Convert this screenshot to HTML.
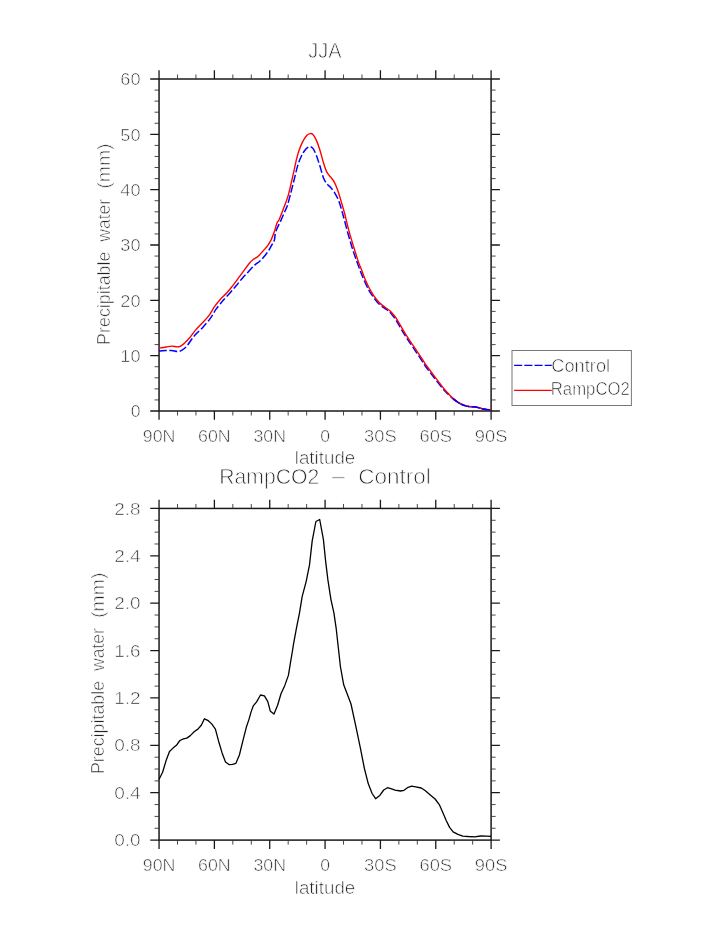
<!DOCTYPE html>
<html><head><meta charset="utf-8"><title>JJA Precipitable water</title>
<style>
html,body{margin:0;padding:0;background:#fff;}
svg{display:block;}
text{font-family:"Liberation Sans",sans-serif;fill:#222;stroke:#fff;stroke-width:0.62px;}
.t{stroke-width:0.8px;}
</style></head><body>
<svg width="723" height="935" viewBox="0 0 723 935">
<rect width="723" height="935" fill="#fff"/>
<rect x="159.05" y="79.0" width="332.05" height="332.0" fill="none" stroke="#1a1a1a" stroke-width="1.5"/>
<path d="M159.05,79.0v-8.8M159.05,411.0v8.8M214.39,79.0v-8.8M214.39,411.0v8.8M269.73,79.0v-8.8M269.73,411.0v8.8M325.08,79.0v-8.8M325.08,411.0v8.8M380.42,79.0v-8.8M380.42,411.0v8.8M435.76,79.0v-8.8M435.76,411.0v8.8M491.10,79.0v-8.8M491.10,411.0v8.8M159.05,411.00h-8.8M491.1,411.00h8.8M159.05,355.67h-8.8M491.1,355.67h8.8M159.05,300.33h-8.8M491.1,300.33h8.8M159.05,245.00h-8.8M491.1,245.00h8.8M159.05,189.67h-8.8M491.1,189.67h8.8M159.05,134.33h-8.8M491.1,134.33h8.8M159.05,79.00h-8.8M491.1,79.00h8.8" stroke="#1a1a1a" stroke-width="1.3" fill="none"/>
<path d="M177.50,79.0v-4.5M177.50,411.0v4.5M195.94,79.0v-4.5M195.94,411.0v4.5M232.84,79.0v-4.5M232.84,411.0v4.5M251.29,79.0v-4.5M251.29,411.0v4.5M288.18,79.0v-4.5M288.18,411.0v4.5M306.63,79.0v-4.5M306.63,411.0v4.5M343.52,79.0v-4.5M343.52,411.0v4.5M361.97,79.0v-4.5M361.97,411.0v4.5M398.86,79.0v-4.5M398.86,411.0v4.5M417.31,79.0v-4.5M417.31,411.0v4.5M454.21,79.0v-4.5M454.21,411.0v4.5M472.65,79.0v-4.5M472.65,411.0v4.5M159.05,399.93h-4.5M491.1,399.93h4.5M159.05,388.87h-4.5M491.1,388.87h4.5M159.05,377.80h-4.5M491.1,377.80h4.5M159.05,366.73h-4.5M491.1,366.73h4.5M159.05,344.60h-4.5M491.1,344.60h4.5M159.05,333.53h-4.5M491.1,333.53h4.5M159.05,322.47h-4.5M491.1,322.47h4.5M159.05,311.40h-4.5M491.1,311.40h4.5M159.05,289.27h-4.5M491.1,289.27h4.5M159.05,278.20h-4.5M491.1,278.20h4.5M159.05,267.13h-4.5M491.1,267.13h4.5M159.05,256.07h-4.5M491.1,256.07h4.5M159.05,233.93h-4.5M491.1,233.93h4.5M159.05,222.87h-4.5M491.1,222.87h4.5M159.05,211.80h-4.5M491.1,211.80h4.5M159.05,200.73h-4.5M491.1,200.73h4.5M159.05,178.60h-4.5M491.1,178.60h4.5M159.05,167.53h-4.5M491.1,167.53h4.5M159.05,156.47h-4.5M491.1,156.47h4.5M159.05,145.40h-4.5M491.1,145.40h4.5M159.05,123.27h-4.5M491.1,123.27h4.5M159.05,112.20h-4.5M491.1,112.20h4.5M159.05,101.13h-4.5M491.1,101.13h4.5M159.05,90.07h-4.5M491.1,90.07h4.5" stroke="#333" stroke-width="0.9" fill="none"/>
<rect x="159.05" y="508.45" width="332.05" height="331.65000000000003" fill="none" stroke="#1a1a1a" stroke-width="1.5"/>
<path d="M159.05,508.45v-8.8M159.05,840.1v8.8M214.39,508.45v-8.8M214.39,840.1v8.8M269.73,508.45v-8.8M269.73,840.1v8.8M325.08,508.45v-8.8M325.08,840.1v8.8M380.42,508.45v-8.8M380.42,840.1v8.8M435.76,508.45v-8.8M435.76,840.1v8.8M491.10,508.45v-8.8M491.10,840.1v8.8M159.05,840.10h-8.8M491.1,840.10h8.8M159.05,792.72h-8.8M491.1,792.72h8.8M159.05,745.34h-8.8M491.1,745.34h8.8M159.05,697.96h-8.8M491.1,697.96h8.8M159.05,650.59h-8.8M491.1,650.59h8.8M159.05,603.21h-8.8M491.1,603.21h8.8M159.05,555.83h-8.8M491.1,555.83h8.8M159.05,508.45h-8.8M491.1,508.45h8.8" stroke="#1a1a1a" stroke-width="1.3" fill="none"/>
<path d="M177.50,508.45v-4.5M177.50,840.1v4.5M195.94,508.45v-4.5M195.94,840.1v4.5M232.84,508.45v-4.5M232.84,840.1v4.5M251.29,508.45v-4.5M251.29,840.1v4.5M288.18,508.45v-4.5M288.18,840.1v4.5M306.63,508.45v-4.5M306.63,840.1v4.5M343.52,508.45v-4.5M343.52,840.1v4.5M361.97,508.45v-4.5M361.97,840.1v4.5M398.86,508.45v-4.5M398.86,840.1v4.5M417.31,508.45v-4.5M417.31,840.1v4.5M454.21,508.45v-4.5M454.21,840.1v4.5M472.65,508.45v-4.5M472.65,840.1v4.5M159.05,828.26h-4.5M491.1,828.26h4.5M159.05,816.41h-4.5M491.1,816.41h4.5M159.05,804.57h-4.5M491.1,804.57h4.5M159.05,780.88h-4.5M491.1,780.88h4.5M159.05,769.03h-4.5M491.1,769.03h4.5M159.05,757.19h-4.5M491.1,757.19h4.5M159.05,733.50h-4.5M491.1,733.50h4.5M159.05,721.65h-4.5M491.1,721.65h4.5M159.05,709.81h-4.5M491.1,709.81h4.5M159.05,686.12h-4.5M491.1,686.12h4.5M159.05,674.27h-4.5M491.1,674.27h4.5M159.05,662.43h-4.5M491.1,662.43h4.5M159.05,638.74h-4.5M491.1,638.74h4.5M159.05,626.90h-4.5M491.1,626.90h4.5M159.05,615.05h-4.5M491.1,615.05h4.5M159.05,591.36h-4.5M491.1,591.36h4.5M159.05,579.52h-4.5M491.1,579.52h4.5M159.05,567.67h-4.5M491.1,567.67h4.5M159.05,543.98h-4.5M491.1,543.98h4.5M159.05,532.14h-4.5M491.1,532.14h4.5M159.05,520.29h-4.5M491.1,520.29h4.5" stroke="#333" stroke-width="0.9" fill="none"/>
<path d="M159.00,350.90C159.22,350.90 159.12,350.95 160.30,350.90C161.48,350.85 164.22,350.67 166.10,350.60C167.98,350.53 169.65,350.33 171.60,350.50C173.55,350.67 176.07,351.65 177.80,351.60C179.53,351.55 180.50,351.12 182.00,350.20C183.50,349.28 185.18,347.93 186.80,346.10C188.42,344.27 190.08,341.28 191.70,339.20C193.32,337.12 194.55,335.68 196.50,333.60C198.45,331.52 201.10,329.23 203.40,326.70C205.70,324.17 208.22,321.28 210.30,318.40C212.38,315.52 214.05,312.05 215.90,309.40C217.75,306.75 220.03,304.18 221.40,302.50C222.77,300.82 222.53,301.07 224.10,299.30C225.67,297.53 228.72,294.25 230.80,291.90C232.88,289.55 234.67,287.48 236.60,285.20C238.53,282.92 240.47,280.42 242.40,278.20C244.33,275.98 246.12,274.12 248.20,271.90C250.28,269.68 252.97,266.68 254.90,264.90C256.83,263.12 258.15,262.72 259.80,261.20C261.45,259.68 263.27,257.67 264.80,255.80C266.33,253.93 267.75,251.95 269.00,250.00C270.25,248.05 271.40,245.77 272.30,244.10C273.20,242.43 273.82,242.10 274.40,240.00C274.98,237.90 274.77,234.65 275.80,231.50C276.83,228.35 279.10,224.45 280.60,221.10C282.10,217.75 283.68,213.95 284.80,211.40C285.92,208.85 286.32,208.82 287.30,205.80C288.28,202.78 289.55,197.68 290.70,193.30C291.85,188.92 293.03,184.12 294.20,179.50C295.37,174.88 296.55,169.40 297.70,165.60C298.85,161.80 299.83,159.35 301.10,156.70C302.37,154.05 303.92,151.37 305.30,149.70C306.68,148.03 308.13,146.92 309.40,146.70C310.67,146.48 311.75,146.97 312.90,148.40C314.05,149.83 315.15,152.43 316.30,155.30C317.45,158.17 318.63,161.92 319.80,165.60C320.97,169.28 322.15,174.40 323.30,177.40C324.45,180.40 325.43,181.87 326.70,183.60C327.97,185.33 329.52,186.18 330.90,187.80C332.28,189.42 333.65,191.00 335.00,193.30C336.35,195.60 337.65,197.95 339.00,201.60C340.35,205.25 341.62,209.93 343.10,215.20C344.58,220.47 346.28,227.43 347.90,233.20C349.52,238.97 351.18,244.73 352.80,249.80C354.42,254.87 355.87,258.88 357.60,263.60C359.33,268.32 361.35,273.72 363.20,278.10C365.05,282.48 367.10,286.87 368.70,289.90C370.30,292.93 371.20,294.08 372.80,296.30C374.40,298.52 376.47,301.30 378.30,303.20C380.13,305.10 382.07,306.37 383.80,307.70C385.53,309.03 387.20,309.87 388.70,311.20C390.20,312.53 391.53,314.15 392.80,315.70C394.07,317.25 394.40,317.43 396.30,320.50C398.20,323.57 401.50,329.75 404.20,334.10C406.90,338.45 409.50,342.10 412.50,346.60C415.50,351.10 420.10,357.92 422.20,361.10C424.30,364.28 423.17,363.00 425.10,365.70C427.03,368.40 430.69,373.29 433.80,377.30C436.91,381.31 441.28,386.87 443.75,389.78C446.22,392.68 447.07,393.25 448.61,394.75C450.14,396.24 451.45,397.51 452.94,398.73C454.42,399.95 456.02,401.10 457.50,402.05C458.98,403.00 460.47,403.82 461.80,404.45C463.13,405.08 464.22,405.48 465.50,405.85C466.78,406.22 467.87,406.45 469.50,406.65C471.13,406.85 473.72,406.85 475.30,407.05C476.88,407.25 477.70,407.52 479.00,407.85C480.30,408.18 481.77,408.75 483.10,409.05C484.43,409.35 485.68,409.50 487.00,409.65C488.32,409.80 490.33,409.90 491.00,409.95" fill="none" stroke="#0000ff" stroke-width="1.5" stroke-dasharray="7.8,2.6" stroke-linejoin="round"/>
<path d="M159.00,347.90C159.22,347.90 159.12,348.05 160.30,347.90C161.48,347.75 164.22,347.30 166.10,347.00C167.98,346.70 169.77,346.12 171.60,346.10C173.43,346.08 175.60,346.90 177.10,346.90C178.60,346.90 179.33,346.75 180.60,346.10C181.87,345.45 183.20,344.38 184.70,343.00C186.20,341.62 187.87,339.87 189.60,337.80C191.33,335.73 193.03,333.02 195.10,330.60C197.17,328.18 199.70,325.80 202.00,323.30C204.30,320.80 206.82,318.37 208.90,315.60C210.98,312.83 212.65,309.35 214.50,306.70C216.35,304.05 217.93,302.02 220.00,299.70C222.07,297.38 224.83,295.07 226.90,292.80C228.97,290.53 230.50,288.53 232.40,286.10C234.30,283.67 236.35,280.83 238.30,278.20C240.25,275.57 242.32,272.72 244.10,270.30C245.88,267.88 247.48,265.50 249.00,263.70C250.52,261.90 251.67,260.75 253.20,259.50C254.73,258.25 256.53,257.65 258.20,256.20C259.87,254.75 261.68,252.47 263.20,250.80C264.72,249.13 266.07,247.87 267.30,246.20C268.53,244.53 269.83,242.17 270.60,240.80C271.37,239.43 271.27,239.55 271.90,238.00C272.53,236.45 273.52,234.08 274.40,231.50C275.28,228.92 276.43,224.42 277.20,222.50C277.97,220.58 277.90,222.45 279.00,220.00C280.10,217.55 282.30,211.78 283.80,207.80C285.30,203.82 286.73,200.37 288.00,196.10C289.27,191.83 290.37,186.58 291.40,182.20C292.43,177.82 293.38,173.48 294.20,169.80C295.02,166.12 295.50,163.33 296.30,160.10C297.10,156.87 297.97,153.40 299.00,150.40C300.03,147.40 301.22,144.58 302.50,142.10C303.78,139.62 305.43,136.92 306.70,135.50C307.97,134.08 309.07,133.77 310.10,133.60C311.13,133.43 311.87,133.42 312.90,134.50C313.93,135.58 315.15,137.57 316.30,140.10C317.45,142.63 318.63,146.02 319.80,149.70C320.97,153.38 322.15,158.50 323.30,162.20C324.45,165.90 325.43,169.37 326.70,171.90C327.97,174.43 329.63,175.68 330.90,177.40C332.17,179.12 333.15,180.02 334.30,182.20C335.45,184.38 336.65,187.27 337.80,190.50C338.95,193.73 340.05,197.72 341.20,201.60C342.35,205.48 343.43,209.00 344.70,213.80C345.97,218.60 347.30,224.87 348.80,230.40C350.30,235.93 352.08,241.70 353.70,247.00C355.32,252.30 357.18,258.37 358.50,262.20C359.82,266.03 360.57,267.32 361.60,270.00C362.63,272.68 363.50,275.42 364.70,278.30C365.90,281.18 367.30,284.42 368.80,287.30C370.30,290.18 371.97,293.07 373.70,295.60C375.43,298.13 377.37,300.60 379.20,302.50C381.03,304.40 382.97,305.67 384.70,307.00C386.43,308.33 388.10,309.17 389.60,310.50C391.10,311.83 392.43,313.45 393.70,315.00C394.97,316.55 395.30,316.73 397.20,319.80C399.10,322.87 402.40,329.05 405.10,333.40C407.80,337.75 410.40,341.40 413.40,345.90C416.40,350.40 421.00,357.22 423.10,360.40C425.20,363.58 424.07,362.30 426.00,365.00C427.93,367.70 431.63,372.57 434.70,376.60C437.77,380.63 442.02,386.25 444.40,389.20C446.78,392.15 447.55,392.77 449.00,394.30C450.45,395.83 451.68,397.15 453.10,398.40C454.52,399.65 456.05,400.83 457.50,401.80C458.95,402.77 460.47,403.57 461.80,404.20C463.13,404.83 464.22,405.23 465.50,405.60C466.78,405.97 467.87,406.20 469.50,406.40C471.13,406.60 473.72,406.60 475.30,406.80C476.88,407.00 477.70,407.27 479.00,407.60C480.30,407.93 481.77,408.50 483.10,408.80C484.43,409.10 485.68,409.25 487.00,409.40C488.32,409.55 490.33,409.65 491.00,409.70" fill="none" stroke="#ff0000" stroke-width="1.4" stroke-linejoin="round"/>
<path d="M452.94,398.73C453.70,399.28 456.02,401.10 457.50,402.05C458.98,403.00 460.47,403.82 461.80,404.45C463.13,405.08 464.22,405.48 465.50,405.85C466.78,406.22 467.87,406.45 469.50,406.65C471.13,406.85 473.72,406.85 475.30,407.05C476.88,407.25 477.70,407.52 479.00,407.85C480.30,408.18 481.77,408.75 483.10,409.05C484.43,409.35 485.68,409.50 487.00,409.65C488.32,409.80 490.33,409.90 491.00,409.95" fill="none" stroke="#0000ff" stroke-width="1.5" stroke-dasharray="7.8,2.6" stroke-linejoin="round"/>
<polyline points="159.1,779.2 162.6,772.3 166.1,760.5 169.5,751.5 173.0,748.1 176.4,745.3 179.9,740.5 183.4,738.8 186.8,738.1 190.3,735.6 194.4,731.5 197.9,729.1 201.3,725.3 204.4,718.8 208.3,720.7 211.7,723.9 215.4,729.1 218.6,741.2 222.1,752.9 225.5,761.9 229.3,764.7 232.5,764.3 235.9,763.3 239.4,755.0 242.8,741.2 246.3,727.3 248.9,719.6 251.1,711.9 253.3,705.8 256.6,701.9 260.5,695.0 264.4,695.9 267.7,701.4 270.4,711.3 274.0,714.1 277.6,705.3 281.0,693.7 284.8,685.4 288.4,675.4 290.4,663.2 292.6,650.0 293.5,644.2 296.5,627.8 299.5,612.8 302.2,596.3 306.2,581.3 309.5,564.9 312.2,540.9 315.9,521.5 319.7,519.5 323.4,539.4 325.7,561.9 327.9,579.9 330.9,599.3 333.9,612.8 336.1,627.8 338.5,649.2 340.4,666.5 343.7,684.8 351.0,704.0 355.8,726.2 360.6,749.2 364.4,768.5 368.3,783.8 372.1,793.5 375.6,798.7 379.8,795.4 383.7,790.0 387.5,787.7 392.3,789.2 395.0,790.1 400.5,791.0 404.0,790.3 408.1,787.3 411.6,786.2 415.7,786.9 421.3,788.0 425.4,790.7 430.3,794.9 435.1,799.0 439.3,804.6 442.7,812.2 446.2,820.5 449.6,827.4 453.1,831.8 457.9,834.3 462.8,836.1 468.3,836.5 474.5,836.8 480.8,836.0 486.3,836.1 491.1,836.4" fill="none" stroke="#000" stroke-width="1.3" stroke-linejoin="round"/>
<rect x="512" y="350.5" width="119.4" height="55" fill="#fff" stroke="#777" stroke-width="1"/>
<path d="M514.1,365.4H552.3" stroke="#0000ff" stroke-width="1.4" stroke-dasharray="8.1,2.1" fill="none"/>
<path d="M514.1,390.4H552.3" stroke="#ff0000" stroke-width="1.4" fill="none"/>
<text x="551.3" y="372.0" font-size="17.7" text-anchor="start" textLength="58.8" lengthAdjust="spacingAndGlyphs">Control</text>
<text x="550.8" y="394.9" font-size="17.7" text-anchor="start" textLength="79" lengthAdjust="spacingAndGlyphs">RampCO2</text>
<text x="324.9" y="57.6" font-size="22.2" text-anchor="middle" textLength="33.4" lengthAdjust="spacingAndGlyphs" class="t">JJA</text>
<text y="484.0" font-size="22.2" text-anchor="start" class="t"><tspan x="219.2" textLength="100" lengthAdjust="spacingAndGlyphs">RampCO2</tspan> <tspan x="332.1" y="483.4" font-size="20.5" textLength="12.8" lengthAdjust="spacingAndGlyphs" style="fill:#777;stroke-width:0.62px">–</tspan> <tspan x="358.2" y="484.0" textLength="72.5" lengthAdjust="spacingAndGlyphs">Control</tspan></text>
<text x="159.1" y="442.3" font-size="17.2" text-anchor="middle" textLength="32.6" lengthAdjust="spacingAndGlyphs">90N</text>
<text x="214.4" y="442.3" font-size="17.2" text-anchor="middle" textLength="32.6" lengthAdjust="spacingAndGlyphs">60N</text>
<text x="269.7" y="442.3" font-size="17.2" text-anchor="middle" textLength="32.6" lengthAdjust="spacingAndGlyphs">30N</text>
<text x="325.1" y="442.3" font-size="17.2" text-anchor="middle" textLength="9.8" lengthAdjust="spacingAndGlyphs">0</text>
<text x="380.4" y="442.3" font-size="17.2" text-anchor="middle" textLength="32.6" lengthAdjust="spacingAndGlyphs">30S</text>
<text x="435.8" y="442.3" font-size="17.2" text-anchor="middle" textLength="32.6" lengthAdjust="spacingAndGlyphs">60S</text>
<text x="491.1" y="442.3" font-size="17.2" text-anchor="middle" textLength="32.6" lengthAdjust="spacingAndGlyphs">90S</text>
<text x="159.1" y="871.4" font-size="17.2" text-anchor="middle" textLength="32.6" lengthAdjust="spacingAndGlyphs">90N</text>
<text x="214.4" y="871.4" font-size="17.2" text-anchor="middle" textLength="32.6" lengthAdjust="spacingAndGlyphs">60N</text>
<text x="269.7" y="871.4" font-size="17.2" text-anchor="middle" textLength="32.6" lengthAdjust="spacingAndGlyphs">30N</text>
<text x="325.1" y="871.4" font-size="17.2" text-anchor="middle" textLength="9.8" lengthAdjust="spacingAndGlyphs">0</text>
<text x="380.4" y="871.4" font-size="17.2" text-anchor="middle" textLength="32.6" lengthAdjust="spacingAndGlyphs">30S</text>
<text x="435.8" y="871.4" font-size="17.2" text-anchor="middle" textLength="32.6" lengthAdjust="spacingAndGlyphs">60S</text>
<text x="491.1" y="871.4" font-size="17.2" text-anchor="middle" textLength="32.6" lengthAdjust="spacingAndGlyphs">90S</text>
<text x="325" y="464.4" font-size="17.6" text-anchor="middle" textLength="60.5" lengthAdjust="spacingAndGlyphs">latitude</text>
<text x="325" y="893.6" font-size="17.6" text-anchor="middle" textLength="60.5" lengthAdjust="spacingAndGlyphs">latitude</text>
<text x="140.5" y="417.2" font-size="17.2" text-anchor="end" textLength="9.8" lengthAdjust="spacingAndGlyphs">0</text>
<text x="140.5" y="361.9" font-size="17.2" text-anchor="end" textLength="20.2" lengthAdjust="spacingAndGlyphs">10</text>
<text x="140.5" y="306.6" font-size="17.2" text-anchor="end" textLength="20.2" lengthAdjust="spacingAndGlyphs">20</text>
<text x="140.5" y="251.2" font-size="17.2" text-anchor="end" textLength="20.2" lengthAdjust="spacingAndGlyphs">30</text>
<text x="140.5" y="195.9" font-size="17.2" text-anchor="end" textLength="20.2" lengthAdjust="spacingAndGlyphs">40</text>
<text x="140.5" y="140.6" font-size="17.2" text-anchor="end" textLength="20.2" lengthAdjust="spacingAndGlyphs">50</text>
<text x="140.5" y="85.2" font-size="17.2" text-anchor="end" textLength="20.2" lengthAdjust="spacingAndGlyphs">60</text>
<text x="140.6" y="846.2" font-size="17.2" text-anchor="end" textLength="26.4" lengthAdjust="spacingAndGlyphs">0.0</text>
<text x="140.6" y="798.8" font-size="17.2" text-anchor="end" textLength="26.4" lengthAdjust="spacingAndGlyphs">0.4</text>
<text x="140.6" y="751.4" font-size="17.2" text-anchor="end" textLength="26.4" lengthAdjust="spacingAndGlyphs">0.8</text>
<text x="140.6" y="704.1" font-size="17.2" text-anchor="end" textLength="26.4" lengthAdjust="spacingAndGlyphs">1.2</text>
<text x="140.6" y="656.7" font-size="17.2" text-anchor="end" textLength="26.4" lengthAdjust="spacingAndGlyphs">1.6</text>
<text x="140.6" y="609.3" font-size="17.2" text-anchor="end" textLength="26.4" lengthAdjust="spacingAndGlyphs">2.0</text>
<text x="140.6" y="561.9" font-size="17.2" text-anchor="end" textLength="26.4" lengthAdjust="spacingAndGlyphs">2.4</text>
<text x="140.6" y="514.5" font-size="17.2" text-anchor="end" textLength="26.4" lengthAdjust="spacingAndGlyphs">2.8</text>
<text transform="translate(110.2,344.9) rotate(-90)" font-size="17.6" text-anchor="start"><tspan x="0.0" textLength="93.3" lengthAdjust="spacingAndGlyphs">Precipitable</tspan> <tspan x="103.2" textLength="42.8" lengthAdjust="spacingAndGlyphs">water</tspan> <tspan x="156.1" textLength="45.4" lengthAdjust="spacingAndGlyphs">(mm)</tspan></text>
<text transform="translate(104.3,774.1) rotate(-90)" font-size="17.6" text-anchor="start"><tspan x="0.0" textLength="93.3" lengthAdjust="spacingAndGlyphs">Precipitable</tspan> <tspan x="103.2" textLength="42.8" lengthAdjust="spacingAndGlyphs">water</tspan> <tspan x="156.1" textLength="45.4" lengthAdjust="spacingAndGlyphs">(mm)</tspan></text>
</svg>
</body></html>
